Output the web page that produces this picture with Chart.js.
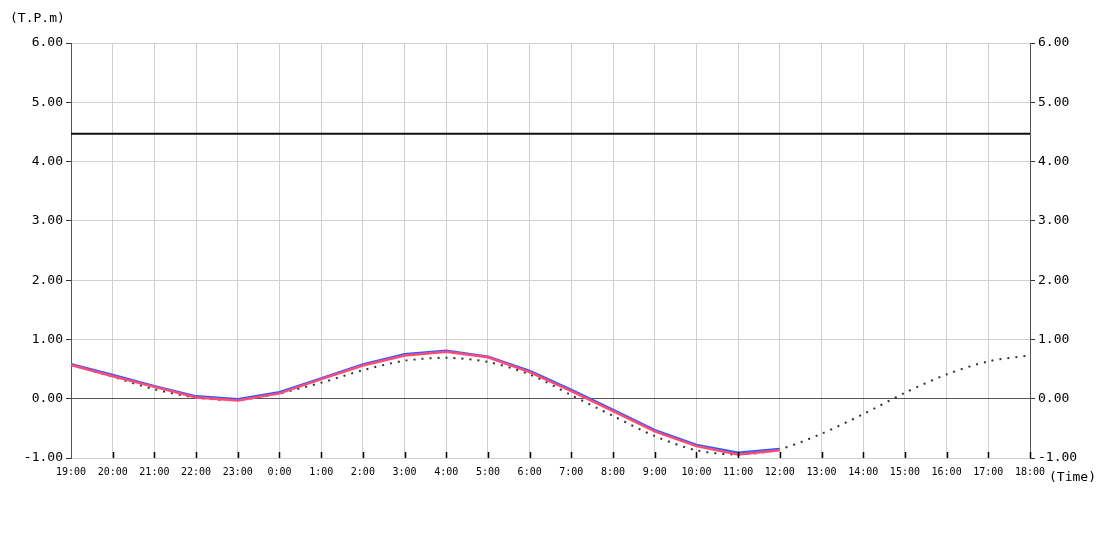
<!DOCTYPE html>
<html lang="ja">
<head>
    <meta charset="UTF-8">
    <title>潮位</title>
    <script src="https://cdn.jsdelivr.net/npm/chart.js"></script>
    <style>
        html, body { margin: 0; padding: 0; background: #fff; }
        #wrap { position: relative; width: 1100px; height: 550px; }
    </style>
</head>
<body>
<div id="wrap"><canvas id="tideChart" width="1100" height="550"></canvas></div>
<script>
// 時刻ラベル
const hours = ['19:00','20:00','21:00','22:00','23:00','0:00','1:00','2:00','3:00','4:00','5:00','6:00',
               '7:00','8:00','9:00','10:00','11:00','12:00','13:00','14:00','15:00','16:00','17:00','18:00'];
// 実測 (青)
const observed = [0.58, 0.40, 0.21, 0.04, -0.01, 0.11, 0.34, 0.58, 0.75, 0.81, 0.71, 0.47,
                  0.15, -0.19, -0.53, -0.78, -0.91, -0.85];
// 補正値 (赤)
const corrected = [0.57, 0.38, 0.20, 0.02, -0.03, 0.09, 0.33, 0.56, 0.73, 0.79, 0.70, 0.45,
                   0.13, -0.21, -0.55, -0.80, -0.94, -0.87];
// 推算潮位 (点線)
const predicted = [0.58, 0.37, 0.16, 0.02, -0.02, 0.09, 0.27, 0.48, 0.64, 0.69, 0.62, 0.41,
                   0.06, -0.29, -0.63, -0.87, -0.94, -0.85, -0.59, -0.26, 0.10, 0.41, 0.63, 0.73];
// 警戒潮位
const alertLevel = 4.47;
const yTicks = [-1, 0, 1, 2, 3, 4, 5, 6];

const monoFont = '"DejaVu Sans Mono", monospace';

// 下端の目盛り線と単位ラベル
const extras = {
    id: 'extras',
    afterDraw(chart) {
        const ctx = chart.ctx;
        const x = chart.scales.x;
        const area = chart.chartArea;
        ctx.save();
        ctx.strokeStyle = '#000';
        ctx.lineWidth = 1.5;
        x.ticks.forEach((t, i) => {
            if (i === 0) return;
            const px = Math.round(x.getPixelForTick(i)) + 0.5;
            ctx.beginPath();
            ctx.moveTo(px, area.bottom);
            ctx.lineTo(px, area.bottom - 6);
            ctx.stroke();
        });
        ctx.fillStyle = '#000';
        ctx.font = '13px ' + monoFont;
        ctx.textBaseline = 'middle';
        ctx.fillText('(T.P.m)', 10, 19);
        ctx.fillText('(Time)', 1049, 478);
        ctx.restore();
    }
};

new Chart(document.getElementById('tideChart'), {
    type: 'line',
    data: {
        labels: hours,
        datasets: [
            {
                label: '補正',
                data: corrected,
                borderColor: '#ff4a7a',
                borderWidth: 2.5,
                pointRadius: 0,
                tension: 0,
                order: 0
            },
            {
                label: '実測',
                data: observed,
                borderColor: '#2f5cff',
                borderWidth: 2.5,
                pointRadius: 0,
                tension: 0,
                order: 1
            },
            {
                label: '推算',
                data: predicted,
                borderColor: '#333',
                borderWidth: 2,
                borderDash: [2, 6],
                pointRadius: 0,
                tension: 0.3,
                order: 2
            },
            {
                label: '警戒',
                data: [{x: hours[0], y: alertLevel}, {x: hours[hours.length - 1], y: alertLevel}],
                borderColor: '#111',
                borderWidth: 2,
                pointRadius: 0,
                order: 3
            }
        ]
    },
    options: {
        responsive: false,
        animation: false,
        devicePixelRatio: 1,
        layout: { padding: { top: 43, right: 0, left: 0, bottom: 0 } },
        plugins: { legend: { display: false }, tooltip: { enabled: false } },
        scales: {
            x: {
                offset: false,
                grid: { color: '#d0d0d0', drawTicks: false },
                border: { display: false },
                ticks: {
                    color: '#000',
                    autoSkip: false,
                    maxRotation: 0,
                    padding: 8,
                    font: { family: monoFont, size: 10 }
                },
                afterFit(s) { s.height = 92; }
            },
            y: {
                position: 'left',
                min: -1, max: 6,
                afterBuildTicks(s) { s.ticks = yTicks.map(v => ({ value: v })); },
                grid: {
                    color: ctx => ctx.tick && ctx.tick.value === 0 ? '#555' : '#d0d0d0',
                    tickColor: '#333',
                    tickLength: 5
                },
                border: { display: true, color: '#555' },
                ticks: {
                    color: '#000',
                    padding: 3,
                    font: { family: monoFont, size: 13 },
                    callback: v => v.toFixed(2)
                },
                afterFit(s) { s.width = 71; }
            },
            y2: {
                position: 'right',
                min: -1, max: 6,
                afterBuildTicks(s) { s.ticks = yTicks.map(v => ({ value: v })); },
                grid: { drawOnChartArea: false, tickColor: '#333', tickLength: 5 },
                border: { display: true, color: '#555' },
                ticks: {
                    color: '#000',
                    padding: 3,
                    font: { family: monoFont, size: 13 },
                    callback: v => v.toFixed(2)
                },
                afterFit(s) { s.width = 70; }
            }
        }
    },
    plugins: [extras]
});
</script>
</body>
</html>
